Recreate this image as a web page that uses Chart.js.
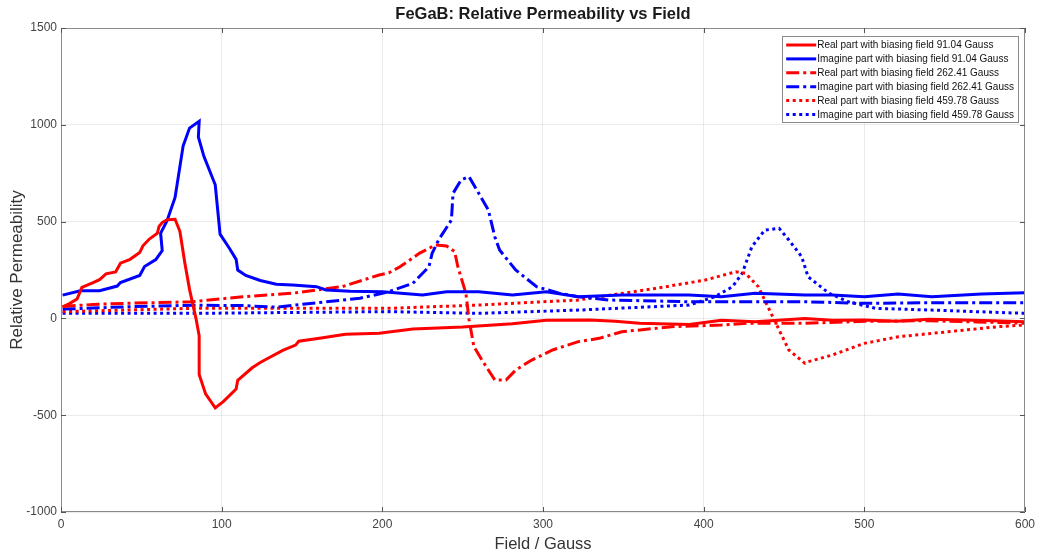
<!DOCTYPE html>
<html>
<head>
<meta charset="utf-8">
<title>FeGaB: Relative Permeability vs Field</title>
<script src="https://cdn.jsdelivr.net/npm/chart.js@4/dist/chart.umd.min.js"></script>
<style>
  html, body { margin:0; padding:0; background:#fff; }
  #wrap { width:1040px; height:557px; position:relative; }
</style>
</head>
<body>
<div id="wrap"><canvas id="permChart"></canvas></div>
<script>
// [field (Gauss), relative permeability]
const real91 = [[1,60],[5,75],[10,100],[13,160],[20,185],[24,200],[26,215],[28,230],[34,240],[37,285],[43,305],[49,340],[51,375],[55,410],[60,440],[61,475],[63,495],[66,510],[71,512],[74,450],[77,290],[80,150],[84,0],[86,-90],[86,-290],[90,-390],[96,-462],[101,-430],[109,-365],[110,-320],[119,-255],[124,-228],[128,-210],[138,-165],[146,-138],[148,-118],[163,-100],[177,-82],[198,-77],[219,-55],[250,-45],[281,-28],[302,-10],[329,-8],[345,-15],[360,-25],[391,-32],[411,-10],[432,-17],[463,0],[480,-10],[500,-8],[520,-15],[540,-5],[562,-8],[580,-12],[600,-17]];
const imag91 = [[1,120],[12,143],[24,143],[35,167],[37,185],[49,222],[52,268],[59,304],[63,350],[62,440],[66,505],[71,625],[76,890],[80,983],[86,1018],[85.5,937],[89,836],[96,690],[99,435],[105,360],[109,305],[110,250],[115,222],[124,196],[134,176],[144,172],[159,164],[165,147],[180,140],[200,138],[225,121],[240,138],[260,138],[281,121],[302,138],[322,112],[349,121],[391,121],[411,112],[432,130],[463,121],[480,121],[500,112],[521,126],[542,112],[573,126],[600,133]];
const real262 = [[1,62],[20,72],[41,78],[82,86],[113,112],[144,130],[175,164],[198,224],[204,235],[211,267],[223,336],[233,379],[240,374],[245,345],[247,267],[252,130],[254,-8],[257,-146],[262,-215],[270,-318],[277,-318],[283,-267],[293,-215],[306,-163],[322,-120],[335,-103],[349,-69],[380,-43],[411,-34],[428,-25],[463,-25],[500,-15],[540,-12],[570,-18],[600,-25]];
const imag262 = [[1,48],[41,60],[82,68],[113,66],[134,58],[165,86],[186,104],[200,130],[204,138],[219,181],[229,267],[231,336],[235,405],[243,508],[244,646],[249,715],[254,732],[260,646],[266,560],[270,422],[273,353],[283,250],[296,164],[310,130],[322,112],[341,95],[391,86],[432,86],[463,86],[500,78],[542,81],[600,81]];
const real460 = [[1,35],[82,52],[165,52],[204,52],[260,69],[322,95],[329,104],[370,155],[401,198],[420,241],[426,233],[434,164],[440,60],[447,-60],[453,-163],[463,-232],[465,-224],[480,-189],[500,-129],[521,-95],[552,-69],[583,-43],[600,-34]];
const imag460 = [[1,26],[82,26],[204,35],[260,26],[322,43],[391,69],[407,112],[418,164],[424,233],[430,370],[438,456],[447,465],[453,405],[461,319],[465,215],[478,130],[490,86],[507,52],[542,43],[600,26]];

const seriesNames = [
  'Real part with biasing field 91.04 Gauss',
  'Imagine part with biasing field 91.04 Gauss',
  'Real part with biasing field 262.41 Gauss',
  'Imagine part with biasing field 262.41 Gauss',
  'Real part with biasing field 459.78 Gauss',
  'Imagine part with biasing field 459.78 Gauss',
];
const xTicks = [0, 100, 200, 300, 400, 500, 600];
const yTicks = [-1000, -500, 0, 500, 1000, 1500];

const RED = '#ff0000', BLUE = '#0000ff';
const SOLID = [], DASHDOT = [13, 4, 3, 4], DOTTED = [3, 3.5];

Chart.defaults.font.family = "'Liberation Sans', Arial, sans-serif";

const toXY = arr => arr.map(([x, y]) => ({ x, y }));

function mkSet(i, pts, color, dash) {
  return {
    label: seriesNames[i], data: toXY(pts),
    borderColor: color, backgroundColor: color,
    borderDash: dash, borderWidth: 3,
    pointRadius: 0, tension: 0, fill: false,
  };
}

// box round the axes, inward ticks and the legend inside the plot (matlab style)
const matlabFrame = {
  id: 'matlabFrame',
  afterDatasetsDraw(chart) {
    const { ctx, chartArea: a, scales } = chart;
    ctx.save();
    ctx.strokeStyle = '#8a8a8a';
    ctx.lineWidth = 1;
    ctx.setLineDash([]);
    ctx.strokeRect(a.left + 0.5, a.top + 0.5, a.right - a.left - 1, a.bottom - a.top - 1);
    ctx.strokeStyle = '#555';
    xTicks.forEach(v => {
      const px = Math.round(scales.x.getPixelForValue(v)) + 0.5;
      ctx.beginPath();
      ctx.moveTo(px, a.bottom); ctx.lineTo(px, a.bottom - 5);
      ctx.moveTo(px, a.top); ctx.lineTo(px, a.top + 5);
      ctx.stroke();
    });
    yTicks.forEach(v => {
      const py = Math.round(scales.y.getPixelForValue(v)) + 0.5;
      ctx.beginPath();
      ctx.moveTo(a.left, py); ctx.lineTo(a.left + 5, py);
      ctx.moveTo(a.right, py); ctx.lineTo(a.right - 5, py);
      ctx.stroke();
    });

    // legend
    const sets = chart.data.datasets;
    ctx.font = "10px 'Liberation Sans', Arial, sans-serif";
    const textW = Math.max(...sets.map(d => ctx.measureText(d.label).width));
    const rowH = 13.9, sample = 30;
    const w = 4 + sample + 1 + textW + 4;
    const h = sets.length * rowH + 3;
    const bx = a.right - 7 - w, by = a.top + 8;
    ctx.fillStyle = '#fff';
    ctx.fillRect(bx, by, w, h);
    ctx.strokeStyle = '#8a8a8a';
    ctx.strokeRect(Math.round(bx) + 0.5, Math.round(by) + 0.5, Math.round(w), Math.round(h));
    ctx.textBaseline = 'middle';
    sets.forEach((d, i) => {
      const cy = by + 9 + i * rowH;
      ctx.strokeStyle = d.borderColor;
      ctx.lineWidth = 3;
      ctx.setLineDash(d.borderDash);
      ctx.beginPath();
      ctx.moveTo(bx + 4, cy); ctx.lineTo(bx + 4 + sample, cy);
      ctx.stroke();
      ctx.setLineDash([]);
      ctx.fillStyle = '#111';
      ctx.fillText(d.label, bx + 4 + sample + 1, cy + 0.5);
    });
    ctx.restore();
  }
};

new Chart(document.getElementById('permChart'), {
  type: 'line',
  data: {
    datasets: [
      mkSet(0, real91, RED, SOLID),
      mkSet(1, imag91, BLUE, SOLID),
      mkSet(2, real262, RED, DASHDOT),
      mkSet(3, imag262, BLUE, DASHDOT),
      mkSet(4, real460, RED, DOTTED),
      mkSet(5, imag460, BLUE, DOTTED),
    ]
  },
  options: {
    responsive: true, maintainAspectRatio: false, animation: false,
    layout: { padding: { left: 0, right: 13, top: 0, bottom: 0 } },
    plugins: {
      legend: { display: false },
      tooltip: { enabled: false },
      title: {
        display: true, text: 'FeGaB: Relative Permeability vs Field',
        fullSize: false, color: '#1a1a1a',
        font: { size: 16.5, weight: 'bold' },
        padding: { top: 5, bottom: 3.2 },
      },
    },
    scales: {
      x: {
        type: 'linear', min: 0, max: 600,
        afterFit: s => { s.height = 45; },
        afterBuildTicks: s => { s.ticks = xTicks.map(v => ({ value: v })); },
        grid: { color: 'rgba(0,0,0,0.08)', drawTicks: false },
        border: { display: false },
        ticks: { color: '#444', font: { size: 12 }, padding: 5, maxRotation: 0, callback: v => String(v) },
        title: { display: true, text: 'Field / Gauss', color: '#333', font: { size: 16.5 }, padding: { top: 0, bottom: 3 } },
      },
      y: {
        type: 'linear', min: -1000, max: 1500,
        afterFit: s => { s.width = 61; },
        afterBuildTicks: s => { s.ticks = yTicks.map(v => ({ value: v })); },
        grid: { color: 'rgba(0,0,0,0.08)', drawTicks: false },
        border: { display: false },
        ticks: { color: '#444', font: { size: 12 }, padding: 4, callback: v => String(v) },
        title: { display: true, text: 'Relative Permeability', color: '#333', font: { size: 17 }, padding: { top: 7, bottom: 0 } },
      },
    },
  },
  plugins: [matlabFrame],
});
</script>
</body>
</html>
